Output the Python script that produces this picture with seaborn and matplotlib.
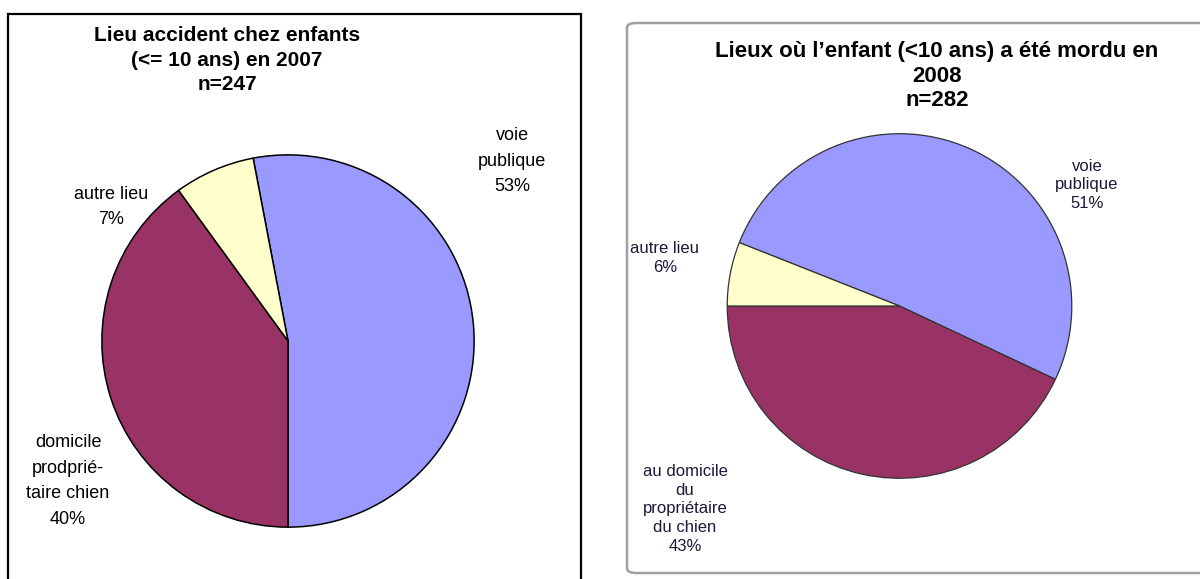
import matplotlib
matplotlib.use("Agg")
import matplotlib.pyplot as plt
import matplotlib.patches as mpatches
import seaborn as sns

sns.set_theme(style="white")
plt.rcParams['font.family'] = ['Liberation Sans', 'DejaVu Sans']

# ---- data ----
left_title = "Lieu accident chez enfants\n(<= 10 ans) en 2007\nn=247"
left_labels = ["voie\npublique", "domicile\nprodprié-\ntaire chien", "autre lieu"]
left_values = [53, 40, 7]

right_title = "Lieux où l’enfant (<10 ans) a été mordu en\n2008\nn=282"
right_labels = ["voie\npublique", "au domicile\ndu\npropriétaire\ndu chien", "autre lieu"]
right_values = [51, 43, 6]

colors = ["#9999FF", "#993366", "#FFFFCC"]

W, H = 1200, 579
fig = plt.figure(figsize=(W / 100, H / 100), dpi=100)
fig.patch.set_facecolor("white")


def px_axes(x0, y0, x1, y1):
    return fig.add_axes([x0 / W, 1 - y1 / H, (x1 - x0) / W, (y1 - y0) / H])


def ftext(x, y, s, ls=1.0, **kw):
    fig.text(x / W, 1 - y / H, s, ha="center", va="center", multialignment="center",
             linespacing=ls, **kw)


# ---- frames ----
fig.add_artist(mpatches.Rectangle((8 / W, 1 - 600 / H), (581 - 8) / W, (600 - 14) / H,
                                  transform=fig.transFigure, fill=False,
                                  edgecolor="black", linewidth=1.6, clip_on=False))
fig.add_artist(mpatches.FancyBboxPatch((627 / W, 1 - 573 / H), (1220 - 627) / W, (573 - 23) / H,
                                       boxstyle="round,pad=0,rounding_size=0.008",
                                       transform=fig.transFigure, fill=False,
                                       edgecolor="#A0A0A0", linewidth=1.8, clip_on=False))

# ---- left pie ----
axL = px_axes(100, 153, 476, 529)
startL = -90 + left_values[0] / 100 * 360
axL.pie(left_values, colors=colors, startangle=startL, counterclock=False,
        wedgeprops=dict(edgecolor="black", linewidth=1.1))
axL.set_xlim(-1.01, 1.01)
axL.set_ylim(-1.01, 1.01)
axL.set_aspect("equal")
axL.axis("off")

ftext(227, 60, left_title, ls=1.36, fontsize=15, fontweight="bold", color="black")
lpos = [(512, 161), (68, 481), (111, 207)]
for (x, y), lab, v in zip(lpos, left_labels, left_values):
    ftext(x, y, f"{lab}\n{v}%", ls=1.65, fontsize=13, color="black")

# ---- right pie ----
axR = px_axes(725.5, 132, 1073.5, 480)
startR = 180 - right_values[2] / 100 * 360
axR.pie(right_values, colors=colors, startangle=startR, counterclock=False,
        wedgeprops=dict(edgecolor="#333333", linewidth=0.9))
axR.set_xlim(-1.01, 1.01)
axR.set_ylim(-1.01, 1.01)
axR.set_aspect("equal")
axR.axis("off")

ftext(937, 76, right_title, ls=1.25, fontsize=16, fontweight="bold", color="black")
rpos = [(1087, 185), (685, 509), (665, 258)]
for (x, y), lab, v in zip(rpos, right_labels, right_values):
    ftext(x, y, f"{lab}\n{v}%", ls=1.32, fontsize=12, color="#1a1a3a")

fig.savefig("out.png", dpi=100, facecolor="white")
